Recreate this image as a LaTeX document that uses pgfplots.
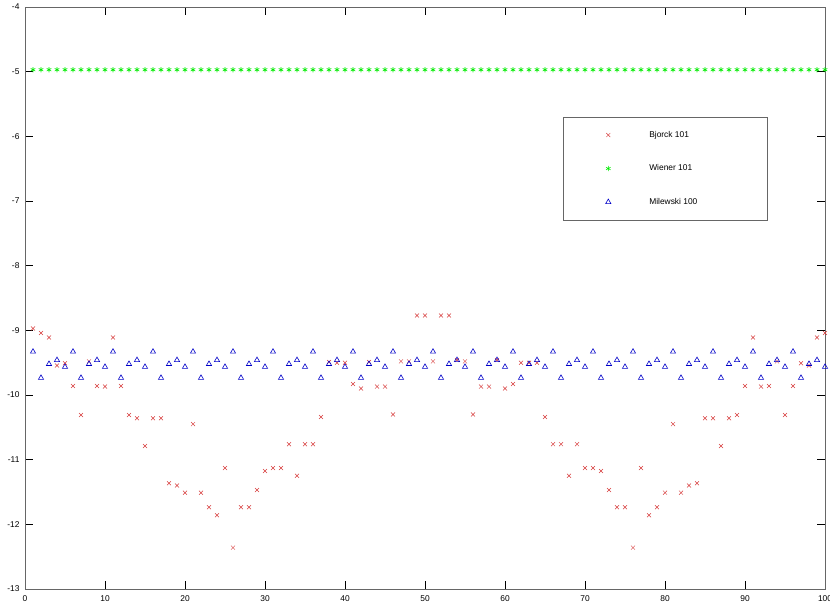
\documentclass[border=0pt]{standalone}
\usepackage{fontspec}
\setmainfont{Liberation Sans}
\usepackage{pgfplots}
\pgfplotsset{compat=1.18}
\usepackage{pgfplotstable}

\definecolor{bjorck}{RGB}{215,60,60}
\definecolor{wiener}{RGB}{0,235,0}
\definecolor{milewski}{RGB}{0,0,200}

\pgfplotsset{
  legimg/.style={legend image code/.code={
    \path[draw=none, fill=none] (0pt,-3pt) rectangle (86pt,3pt);
    \draw[##1] plot coordinates {(45pt,0pt)};}},
}
\newcommand{\legtext}[1]{\makebox[118pt][l]{#1}}

\pgfplotstableread{
x y
1 -8.97
2 -9.04
3 -9.11
4 -9.545
5 -9.51
6 -9.86
7 -10.31
8 -9.48
9 -9.86
10 -9.87
11 -9.11
12 -9.86
13 -10.31
14 -10.36
15 -10.79
16 -10.36
17 -10.36
18 -11.365
19 -11.40
20 -11.51
21 -10.45
22 -11.51
23 -11.735
24 -11.86
25 -11.13
26 -12.36
27 -11.735
28 -11.735
29 -11.47
30 -11.175
31 -11.13
32 -11.13
33 -10.76
34 -11.25
35 -10.76
36 -10.76
37 -10.34
38 -9.49
39 -9.50
40 -9.50
41 -9.83
42 -9.90
43 -9.49
44 -9.87
45 -9.87
46 -10.30
47 -9.48
48 -9.48
49 -8.77
50 -8.77
51 -9.48
52 -8.77
53 -8.77
54 -9.46
55 -9.48
56 -10.30
57 -9.87
58 -9.87
59 -9.46
60 -9.90
61 -9.83
62 -9.50
63 -9.50
64 -9.50
65 -10.34
66 -10.76
67 -10.76
68 -11.25
69 -10.76
70 -11.13
71 -11.13
72 -11.175
73 -11.47
74 -11.735
75 -11.735
76 -12.36
77 -11.13
78 -11.86
79 -11.735
80 -11.51
81 -10.45
82 -11.51
83 -11.40
84 -11.365
85 -10.36
86 -10.36
87 -10.79
88 -10.36
89 -10.31
90 -9.86
91 -9.11
92 -9.87
93 -9.86
94 -9.48
95 -10.31
96 -9.86
97 -9.51
98 -9.545
99 -9.11
100 -9.04
}\bjorck

\pgfplotstableread{
x y
1 -4.97
2 -4.97
3 -4.97
4 -4.97
5 -4.97
6 -4.97
7 -4.97
8 -4.97
9 -4.97
10 -4.97
11 -4.97
12 -4.97
13 -4.97
14 -4.97
15 -4.97
16 -4.97
17 -4.97
18 -4.97
19 -4.97
20 -4.97
21 -4.97
22 -4.97
23 -4.97
24 -4.97
25 -4.97
26 -4.97
27 -4.97
28 -4.97
29 -4.97
30 -4.97
31 -4.97
32 -4.97
33 -4.97
34 -4.97
35 -4.97
36 -4.97
37 -4.97
38 -4.97
39 -4.97
40 -4.97
41 -4.97
42 -4.97
43 -4.97
44 -4.97
45 -4.97
46 -4.97
47 -4.97
48 -4.97
49 -4.97
50 -4.97
51 -4.97
52 -4.97
53 -4.97
54 -4.97
55 -4.97
56 -4.97
57 -4.97
58 -4.97
59 -4.97
60 -4.97
61 -4.97
62 -4.97
63 -4.97
64 -4.97
65 -4.97
66 -4.97
67 -4.97
68 -4.97
69 -4.97
70 -4.97
71 -4.97
72 -4.97
73 -4.97
74 -4.97
75 -4.97
76 -4.97
77 -4.97
78 -4.97
79 -4.97
80 -4.97
81 -4.97
82 -4.97
83 -4.97
84 -4.97
85 -4.97
86 -4.97
87 -4.97
88 -4.97
89 -4.97
90 -4.97
91 -4.97
92 -4.97
93 -4.97
94 -4.97
95 -4.97
96 -4.97
97 -4.97
98 -4.97
99 -4.97
100 -4.97
}\wiener

\pgfplotstableread{
x y
1 -9.33
2 -9.735
3 -9.52
4 -9.46
5 -9.565
6 -9.33
7 -9.735
8 -9.52
9 -9.46
10 -9.565
11 -9.33
12 -9.735
13 -9.52
14 -9.46
15 -9.565
16 -9.33
17 -9.735
18 -9.52
19 -9.46
20 -9.565
21 -9.33
22 -9.735
23 -9.52
24 -9.46
25 -9.565
26 -9.33
27 -9.735
28 -9.52
29 -9.46
30 -9.565
31 -9.33
32 -9.735
33 -9.52
34 -9.46
35 -9.565
36 -9.33
37 -9.735
38 -9.52
39 -9.46
40 -9.565
41 -9.33
42 -9.735
43 -9.52
44 -9.46
45 -9.565
46 -9.33
47 -9.735
48 -9.52
49 -9.46
50 -9.565
51 -9.33
52 -9.735
53 -9.52
54 -9.46
55 -9.565
56 -9.33
57 -9.735
58 -9.52
59 -9.46
60 -9.565
61 -9.33
62 -9.735
63 -9.52
64 -9.46
65 -9.565
66 -9.33
67 -9.735
68 -9.52
69 -9.46
70 -9.565
71 -9.33
72 -9.735
73 -9.52
74 -9.46
75 -9.565
76 -9.33
77 -9.735
78 -9.52
79 -9.46
80 -9.565
81 -9.33
82 -9.735
83 -9.52
84 -9.46
85 -9.565
86 -9.33
87 -9.735
88 -9.52
89 -9.46
90 -9.565
91 -9.33
92 -9.735
93 -9.52
94 -9.46
95 -9.565
96 -9.33
97 -9.735
98 -9.52
99 -9.46
100 -9.565
}\milewski

\begin{document}
\begin{tikzpicture}[font=\fontsize{8.4}{10}\selectfont]
\begin{axis}[
    at={(25pt,17pt)}, anchor=south west,
    scale only axis,
    width=800pt, height=582pt,
    xmin=0, xmax=100, ymin=-13, ymax=-4,
    xtick={0,10,...,100},
    xticklabels={0,10,20,30,40,50,60,70,80,90,100},
    ytick={-13,-12,...,-4},
    yticklabels={-13,-12,-11,-10,-9,-8,-7,-6,-5,-4},
    xtick pos=both, ytick pos=both,
    xticklabel pos=lower, yticklabel pos=left,
    tick align=inside,
    major tick length=8pt,
    tick style={black, line width=0.6pt},
    axis line style={draw=black!60, line width=0.8pt},
    ticklabel style={font=\fontsize{8.4}{10}\selectfont},
    yticklabel style={xshift=-2pt},
    xticklabel style={yshift=-3pt},
    legend style={
        at={(0.6725,0.811)}, anchor=north west,
        draw=black!60, line width=0.6pt, fill=white,
        inner xsep=0pt, inner ysep=14pt,
        row sep=26pt,
        nodes={inner sep=0pt, text height=6pt, text depth=1.5pt},
        font=\fontsize{8.4}{10}\selectfont,
    },
    legend cell align=left,
]
\addplot[only marks, mark=x, mark size=2.8pt, color=bjorck, line width=0.5pt, legimg]
    table[x=x, y=y] {\bjorck};
\addlegendentry{\legtext{Bjorck 101}}
\addplot[only marks, mark=asterisk, mark size=2.6pt, color=wiener, line width=0.6pt, legimg]
    table[x=x, y=y] {\wiener};
\addlegendentry{\legtext{Wiener 101}}
\addplot[only marks, mark=triangle, mark size=3pt, color=milewski, line width=0.6pt, legimg]
    table[x=x, y=y] {\milewski};
\addlegendentry{\legtext{Milewski 100}}
\end{axis}
\pgfresetboundingbox
\path (0,0) rectangle (830pt,606pt);
\end{tikzpicture}
\end{document}
